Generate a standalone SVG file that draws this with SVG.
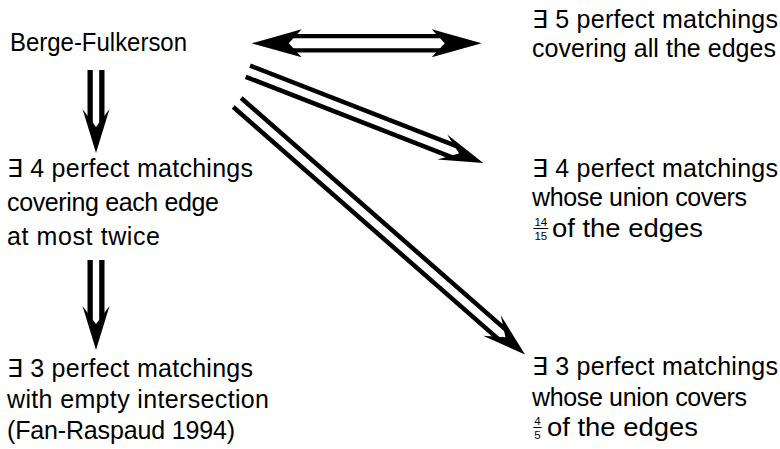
<svg xmlns="http://www.w3.org/2000/svg" width="780" height="449" viewBox="0 0 780 449">
  <style>
    .t { font-family: "Liberation Sans", "DejaVu Sans", sans-serif; font-size: 25px; fill: #000; }
    .f { font-family: "Liberation Sans", "DejaVu Sans", sans-serif; font-size: 11.5px; fill: #000; text-anchor: middle; }
    .rail { stroke: #000; fill: none; stroke-linecap: butt; }
    .bar { stroke: #000; stroke-width: 1; }
  </style>
  <defs>
    <!-- notched arrow heads, tip at the origin, pointing along +x -->
    <path id="head" d="M0,0 L-44,-13.5 L-26,0 L-44,13.5 Z" fill="#000"/>
    <path id="headWide" d="M0,0 L-50,-14 L-37,0 L-50,14 Z" fill="#000"/>
  </defs>

  <g id="connectors">
    <!-- Berge-Fulkerson <=> 5 perfect matchings -->
    <g id="e-bf-pm5">
      <path class="rail" stroke-width="4.3" d="M289.7,36.15 H443.7 M289.7,50.45 H443.7"/>
      <use href="#headWide" transform="translate(481.7,43.3)"/>
      <use href="#headWide" transform="translate(251.7,43.3) rotate(180)"/>
    </g>
    <!-- Berge-Fulkerson => 4 pm covering each edge at most twice -->
    <g id="e-bf-pm4twice" transform="translate(96,153) rotate(90)">
      <path class="rail" stroke-width="5.3" d="M-83,-5.85 H-30 M-83,5.85 H-30"/>
      <use href="#head"/>
    </g>
    <!-- 4 pm twice => 3 pm empty intersection -->
    <g id="e-pm4twice-pm3empty" transform="translate(96,350) rotate(90)">
      <path class="rail" stroke-width="5.3" d="M-90,-5.85 H-30 M-90,5.85 H-30"/>
      <use href="#head"/>
    </g>
    <!-- Berge-Fulkerson => 4 pm union 14/15 -->
    <g id="e-bf-pm4union" transform="translate(483.3,163) rotate(21.3)">
      <path class="rail" stroke-width="4.5" d="M-252.7,-6 H-29 M-252.7,6 H-29"/>
      <use href="#head"/>
    </g>
    <!-- Berge-Fulkerson => 3 pm union 4/5 -->
    <g id="e-bf-pm3union" transform="translate(525,354.5) rotate(41.2)">
      <path class="rail" stroke-width="4.5" d="M-382.5,-6 H-29 M-382.5,6 H-29"/>
      <use href="#head"/>
    </g>
  </g>

  <g id="bf">
    <text class="t" x="10" y="51" textLength="177" lengthAdjust="spacingAndGlyphs">Berge-Fulkerson</text>
  </g>

  <g id="pm5">
    <text class="t" x="532" y="27.5" textLength="246">∃ 5 perfect matchings</text>
    <text class="t" x="532" y="56.5" textLength="244">covering all the edges</text>
  </g>

  <g id="pm4twice">
    <text class="t" x="7" y="176.7" textLength="246">∃ 4 perfect matchings</text>
    <text class="t" x="7" y="211" textLength="212">covering each edge</text>
    <text class="t" x="7" y="244.5" textLength="153">at most twice</text>
  </g>

  <g id="pm4union">
    <text class="t" x="532" y="176.7" textLength="246">∃ 4 perfect matchings</text>
    <text class="t" x="532" y="206" textLength="215">whose union covers</text>
    <text class="f" x="540.8" y="225.5">14</text>
    <line class="bar" x1="533.3" y1="228.5" x2="548.3" y2="228.5"/>
    <text class="f" x="540.8" y="239.5">15</text>
    <text class="t" x="552" y="237" textLength="151" lengthAdjust="spacingAndGlyphs">of the edges</text>
  </g>

  <g id="pm3empty">
    <text class="t" x="7" y="376.7" textLength="246">∃ 3 perfect matchings</text>
    <text class="t" x="7" y="408.3" textLength="262">with empty intersection</text>
    <text class="t" x="7" y="439" textLength="228">(Fan-Raspaud 1994)</text>
  </g>

  <g id="pm3union">
    <text class="t" x="532" y="375" textLength="246">∃ 3 perfect matchings</text>
    <text class="t" x="532" y="405.5" textLength="215">whose union covers</text>
    <text class="f" x="537.5" y="424.5">4</text>
    <line class="bar" x1="533.3" y1="427.5" x2="541.7" y2="427.5"/>
    <text class="f" x="537.5" y="438.5">5</text>
    <text class="t" x="547" y="436" textLength="151" lengthAdjust="spacingAndGlyphs">of the edges</text>
  </g>
</svg>
